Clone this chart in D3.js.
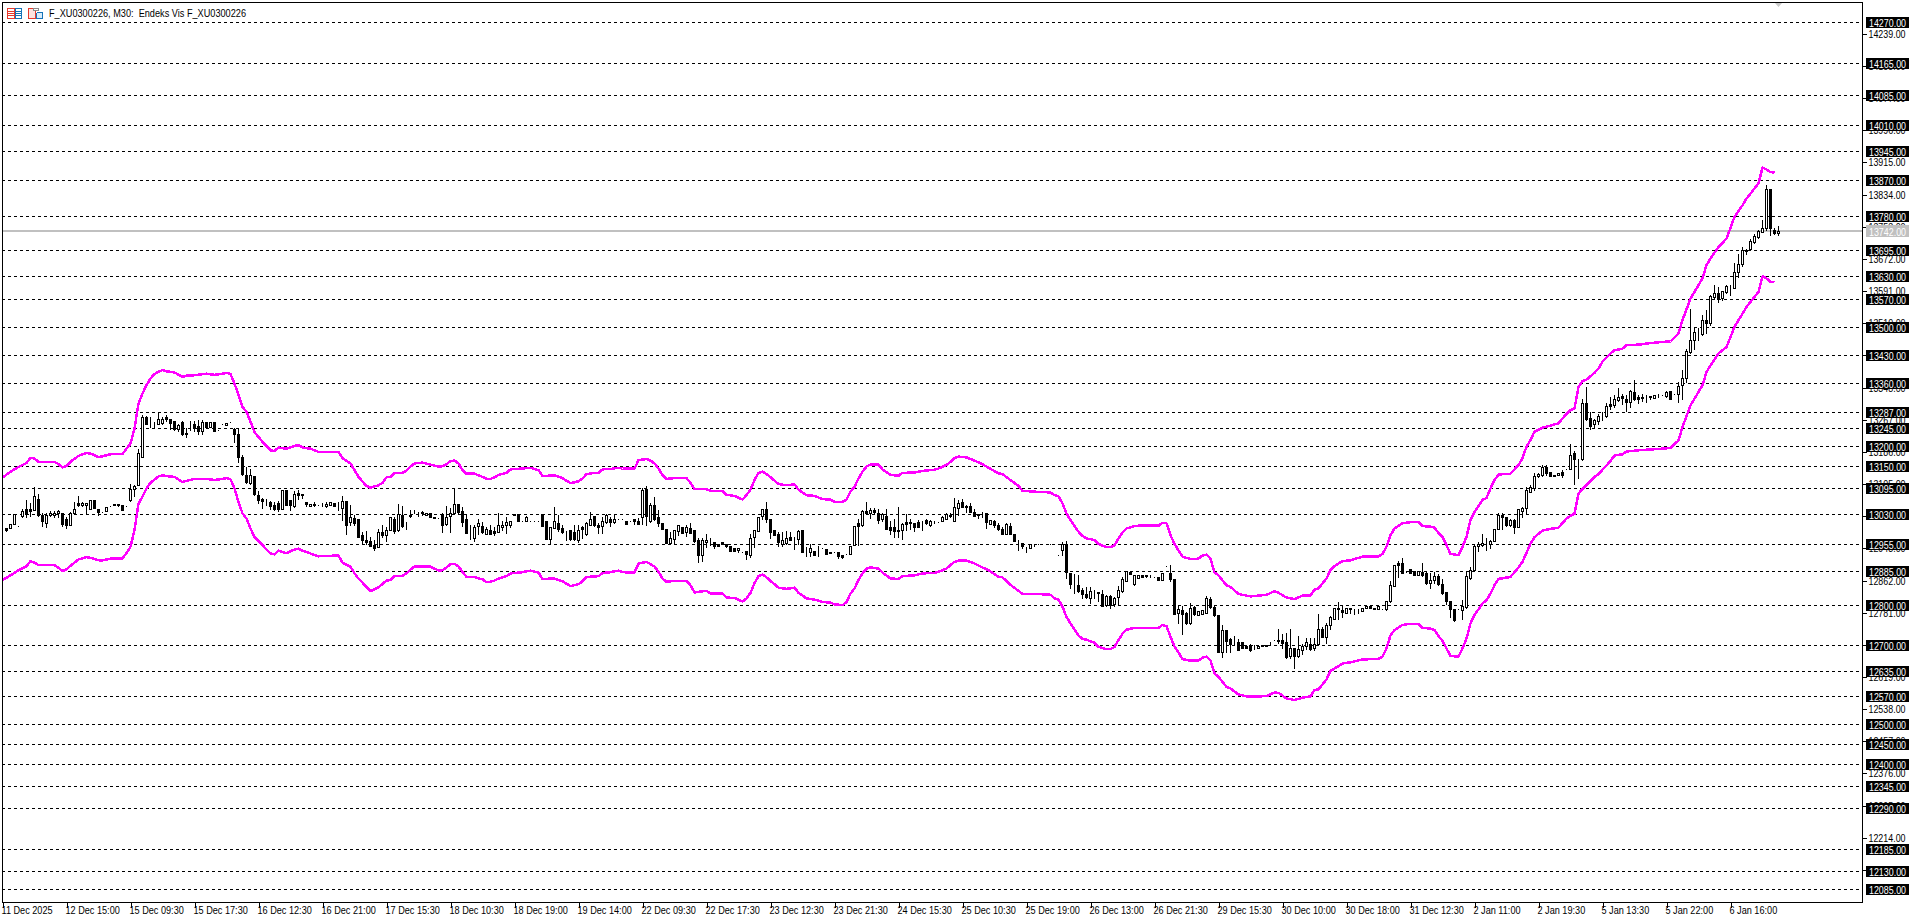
<!DOCTYPE html>
<html>
<head>
<meta charset="utf-8">
<title>F_XU0300226, M30</title>
<script src="https://cdnjs.cloudflare.com/ajax/libs/d3/7.8.5/d3.min.js"></script>
<style>
html, body { margin: 0; padding: 0; background: #fff; overflow: hidden; }
svg { display: block; }
text { font-family: "Liberation Sans", sans-serif; }
</style>
</head>
<body>
<div id="chart"></div>
<script>
const chartTitle = 'F_XU0300226, M30:  Endeks Vis F_XU0300226';
const currentPrice = 13742;

// hand drawn levels on the chart
const levels = [14270,14165,14085,14010,13945,13870,13780,13695,13630,13570,13500,13430,13360,13287,13245,13200,13150,13095,13030,12955,12885,12800,12700,12635,12570,12500,12450,12400,12345,12290,12185,12130,12085];
const priceTicks = [14239,14158,14077,13996,13915,13834,13753,13672,13591,13510,13429,13348,13267,13186,13105,13024,12943,12862,12781,12700,12619,12538,12457,12376,12295,12214,12133];
const timeLabels = ['11 Dec 2025','12 Dec 15:00','15 Dec 09:30','15 Dec 17:30','16 Dec 12:30','16 Dec 21:00','17 Dec 15:30','18 Dec 10:30','18 Dec 19:00','19 Dec 14:00','22 Dec 09:30','22 Dec 17:30','23 Dec 12:30','23 Dec 21:30','24 Dec 15:30','25 Dec 10:30','25 Dec 19:00','26 Dec 13:00','26 Dec 21:30','29 Dec 15:30','30 Dec 10:00','30 Dec 18:00','31 Dec 12:30','2 Jan 11:00','2 Jan 19:30','5 Jan 13:30','5 Jan 22:00','6 Jan 16:00'];

const open = [
12994,12995,13005,12999,13024,13042,13042,13039,13067,13026,
13007,13026,13026,13031,13031,13018,13003,13031,13056,13052,
13053,13043,13066,13041,13035,13037,13050,13055,13055,13051,
13049,13064,13092,13103,13173,13273,13260,13262,13257,13259,
13274,13269,13263,13243,13262,13234,13249,13257,13251,13239,
13260,13249,13260,13241,13256,13253,13260,13243,13231,13173,
13129,13108,13125,13077,13068,13061,13060,13052,13056,13041,
13089,13064,13049,13083,13079,13060,13050,13051,13052,13049,
13049,13053,13058,13052,13045,13062,13009,13019,13017,12976,
12964,12961,12952,12947,12983,12977,12990,13017,12989,13027,
12999,13028,13034,13033,13034,13028,13031,13023,13019,13029,
13004,13025,13031,13054,13037,13017,12983,12970,13000,12999,
12980,12988,12986,12985,12997,13001,13002,13029,13029,13013,
13013,13013,13013,13013,13030,13011,12966,12994,13007,12994,
12982,12989,12984,12964,12997,12979,13002,13024,13003,13000,
13010,13018,13009,13018,13018,13013,13013,13016,13011,13021,
13093,13012,13052,13021,13008,12991,12956,12966,12987,12997,
12985,12995,12989,12964,12926,12958,12960,12958,12955,12958,
12954,12948,12944,12939,12933,12936,12926,12972,12987,13024,
13041,13017,12989,12980,12955,12957,12971,12968,12966,12989,
12934,12934,12937,12949,12945,12941,12935,12934,12934,12926,
12929,12930,12951,13007,13001,13038,13033,13039,13033,13018,
13024,12996,12996,12989,12989,13009,13009,13006,13009,13011,
13014,13002,13013,13010,13013,13018,13028,13013,13045,13059,
13049,13049,13035,13029,13029,13033,13004,13012,13001,12993,
12980,12999,12980,12959,12957,12944,12945,12953,12954,12954,
12954,12955,12954,12925,12938,12955,12881,12854,12851,12838,
12827,12819,12833,12832,12829,12800,12822,12802,12820,12836,
12860,12884,12854,12869,12876,12876,12871,12870,12870,12864,
12898,12880,12867,12780,12787,12780,12755,12796,12775,12777,
12781,12815,12796,12775,12682,12737,12714,12705,12706,12706,
12697,12699,12693,12691,12696,12697,12703,12711,12713,12713,
12706,12671,12693,12671,12688,12698,12703,12691,12703,12741,
12720,12751,12766,12792,12788,12781,12793,12791,12787,12785,
12792,12798,12794,12790,12789,12791,12810,12849,12905,12906,
12883,12890,12886,12877,12884,12880,12856,12863,12874,12853,
12832,12811,12789,12789,12787,12796,12868,12888,12949,12952,
12955,12955,12962,12992,13027,13021,13002,13014,12997,13038,
13045,13086,13095,13124,13127,13147,13136,13129,13127,13135,
13144,13144,13183,13169,13169,13308,13272,13255,13264,13278,
13277,13306,13303,13316,13326,13320,13312,13338,13324,13324,
13327,13326,13322,13329,13329,13327,13340,13333,13332,13355,
13371,13438,13468,13486,13483,13517,13511,13576,13585,13574,
13589,13602,13600,13639,13659,13694,13697,13715,13726,13740,
13749,13848,13746,13738];

const high = [
12994,13005,13029,12999,13042,13064,13056,13098,13081,13031,
13031,13037,13037,13039,13032,13021,13035,13061,13074,13061,
13057,13066,13066,13041,13035,13046,13050,13055,13055,13051,
13049,13106,13102,13194,13280,13276,13274,13262,13287,13273,
13278,13270,13263,13256,13264,13245,13263,13263,13267,13266,
13260,13260,13260,13241,13256,13258,13260,13245,13245,13178,
13148,13144,13125,13088,13071,13068,13063,13060,13062,13089,
13089,13064,13088,13091,13081,13060,13055,13060,13052,13056,
13060,13061,13058,13060,13075,13062,13052,13027,13017,12985,
12987,12972,12965,12993,13002,12997,13022,13023,13055,13050,
13010,13039,13039,13035,13037,13033,13031,13023,13019,13031,
13049,13044,13094,13054,13048,13027,13003,13002,13016,13009,
12996,13002,12996,13031,13013,13023,13013,13029,13029,13013,
13024,13013,13013,13013,13030,13011,12996,13046,13026,13001,
12987,12989,13001,13001,12999,13010,13034,13024,13006,13023,
13029,13023,13028,13018,13018,13013,13013,13016,13020,13096,
13100,13056,13073,13039,13008,12991,12985,12988,13002,12997,
13002,13006,12989,12968,12968,12979,12968,12958,12955,12958,
12954,12948,12944,12944,12933,12936,12979,12989,13021,13041,
13060,13017,12989,12985,12985,12987,12985,12971,12989,12989,
12947,12953,12937,12950,12945,12941,12935,12934,12934,12926,
12929,12950,12999,13017,13039,13060,13044,13045,13042,13031,
13042,13012,13017,13048,13006,13029,13018,13008,13014,13013,
13016,13014,13013,13010,13024,13031,13033,13071,13065,13067,
13052,13056,13043,13029,13035,13033,13014,13014,13007,12996,
13006,13008,12980,12965,12957,12947,12955,12953,12954,12954,
12954,12955,12954,12925,12959,12961,12881,12878,12875,12842,
12846,12846,12839,12832,12838,12825,12825,12821,12848,12870,
12886,12884,12877,12875,12876,12876,12877,12870,12870,12880,
12898,12901,12867,12800,12798,12782,12806,12797,12784,12787,
12822,12821,12797,12775,12749,12738,12716,12722,12714,12706,
12697,12702,12699,12696,12700,12700,12706,12711,12741,12727,
12731,12739,12693,12722,12703,12718,12718,12716,12777,12745,
12754,12772,12794,12808,12800,12794,12793,12791,12790,12794,
12798,12798,12794,12797,12789,12811,12860,12902,12912,12918,
12883,12892,12886,12886,12905,12884,12880,12884,12878,12867,
12832,12811,12789,12789,12813,12886,12895,12955,12960,12979,
12970,12964,12993,13031,13031,13023,13016,13018,13041,13046,
13097,13102,13133,13133,13153,13153,13136,13129,13133,13140,
13144,13207,13187,13169,13320,13350,13287,13269,13281,13287,
13308,13323,13329,13346,13333,13329,13341,13368,13329,13331,
13329,13326,13328,13333,13329,13340,13340,13333,13361,13392,
13444,13547,13497,13499,13530,13544,13581,13606,13602,13592,
13606,13606,13662,13684,13702,13698,13723,13736,13744,13770,
13858,13849,13750,13754];

const low = [
12986,12995,13005,12999,13021,13021,13024,13039,13024,12999,
12997,13024,13022,13021,12999,12994,13001,13029,13049,13050,
13031,13042,13045,13026,13035,13037,13050,13052,13049,13040,
13049,13063,13075,13103,13173,13255,13249,13245,13255,13257,
13264,13243,13242,13239,13228,13224,13242,13239,13231,13231,
13245,13249,13239,13241,13256,13253,13260,13211,13161,13127,
13108,13106,13077,13057,13045,13053,13041,13039,13037,13041,
13053,13039,13047,13068,13070,13050,13050,13050,13052,13049,
13048,13051,13050,13039,13014,12979,13002,13003,12971,12955,
12955,12950,12939,12947,12972,12962,12990,12982,12987,12997,
12992,13023,13031,13025,13028,13028,13023,13020,13019,12984,
13002,12984,13031,13031,13000,12982,12967,12962,12979,12981,
12979,12979,12976,12985,12989,12982,12996,13026,13013,13013,
13012,13013,13013,13013,13000,12966,12955,12994,12987,12982,
12965,12964,12964,12960,12968,12976,13002,12999,12982,12982,
13008,13000,13006,13018,13018,13005,13013,13004,13004,13004,
13002,13010,13014,12999,12992,12956,12955,12955,12976,12982,
12974,12981,12960,12909,12912,12947,12951,12944,12950,12953,
12947,12937,12937,12934,12933,12917,12922,12947,12987,13016,
13010,12968,12976,12949,12949,12954,12964,12942,12954,12934,
12924,12924,12926,12924,12943,12929,12932,12934,12919,12919,
12929,12930,12951,12951,12999,13031,13020,13032,13006,13012,
12991,12979,12972,12972,12967,12989,12991,12987,12996,12989,
13004,13000,13006,13010,13012,13018,13023,13012,13026,13046,
13035,13034,13024,13020,13022,12995,13004,12997,12990,12979,
12979,12979,12961,12938,12943,12934,12944,12948,12954,12954,
12954,12955,12954,12925,12926,12869,12844,12831,12833,12819,
12819,12806,12817,12811,12798,12798,12793,12798,12800,12833,
12860,12878,12850,12869,12871,12870,12870,12870,12864,12864,
12898,12861,12777,12754,12727,12752,12752,12775,12775,12777,
12779,12794,12772,12682,12670,12682,12682,12702,12686,12691,
12691,12685,12689,12691,12696,12697,12701,12711,12705,12691,
12668,12666,12642,12670,12676,12690,12687,12688,12699,12719,
12705,12739,12766,12766,12771,12781,12781,12777,12781,12785,
12792,12794,12791,12790,12789,12787,12807,12849,12871,12880,
12883,12882,12877,12877,12874,12853,12842,12855,12850,12829,
12803,12769,12760,12789,12766,12793,12866,12886,12937,12950,
12940,12943,12962,12991,12993,12999,13000,12982,12997,13023,
13031,13084,13091,13123,13125,13128,13126,13125,13127,13123,
13144,13142,13106,13119,13165,13267,13244,13245,13256,13267,
13274,13295,13298,13314,13306,13289,13299,13316,13309,13314,
13312,13318,13322,13323,13329,13324,13319,13333,13312,13319,
13363,13435,13445,13469,13481,13486,13505,13572,13564,13568,
13586,13581,13598,13627,13655,13684,13694,13711,13724,13739,
13746,13732,13734,13732];

const close = [
12989,13005,13029,12999,13037,13029,13038,13074,13026,13011,
13028,13031,13032,13037,13005,13001,13032,13042,13051,13058,
13057,13064,13045,13035,13035,13046,13050,13052,13052,13040,
13049,13092,13100,13184,13273,13257,13260,13262,13270,13270,
13269,13259,13243,13253,13232,13230,13249,13246,13239,13260,
13249,13260,13239,13241,13256,13258,13260,13231,13173,13131,
13109,13129,13079,13064,13062,13061,13050,13041,13041,13089,
13053,13052,13081,13078,13077,13054,13055,13054,13052,13049,
13054,13060,13050,13052,13062,13002,13022,13006,12972,12964,
12959,12950,12945,12983,12977,12989,13022,12987,13029,12999,
12999,13025,13034,13033,13031,13033,13023,13020,13019,13002,
13021,13031,13054,13034,13010,12982,12983,12997,13006,12983,
12993,12980,12981,13001,13003,13009,13011,13026,13013,13013,
13021,13013,13013,13013,13000,12966,12996,13011,12991,12984,
12982,12967,12966,12989,12991,13007,13016,13001,12997,13012,
13027,13010,13016,13018,13018,13005,13013,13013,13005,13091,
13025,13052,13018,13008,12992,12956,12969,12988,13001,12982,
12997,12982,12962,12926,12964,12964,12960,12949,12950,12953,
12950,12937,12937,12944,12933,12930,12969,12989,13021,13041,
13018,12985,12976,12958,12963,12969,12965,12968,12987,12934,
12934,12943,12926,12949,12943,12929,12932,12934,12924,12922,
12929,12950,12999,12999,13036,13032,13039,13034,13014,13029,
12992,12989,12987,12986,13004,13004,13006,12997,12997,13011,
13008,13013,13011,13010,13021,13029,13025,13046,13056,13048,
13046,13035,13025,13026,13029,13010,13014,13001,12991,12980,
13004,12980,12961,12959,12949,12944,12953,12953,12954,12954,
12954,12955,12954,12925,12954,12884,12853,12852,12836,12827,
12821,12836,12833,12831,12798,12822,12800,12819,12838,12865,
12886,12878,12877,12875,12871,12873,12871,12870,12864,12880,
12898,12866,12777,12789,12777,12754,12794,12777,12784,12787,
12817,12796,12775,12682,12738,12709,12702,12705,12686,12691,
12692,12688,12693,12696,12700,12700,12703,12711,12709,12705,
12670,12693,12671,12690,12698,12706,12690,12703,12741,12720,
12750,12769,12794,12789,12783,12794,12790,12791,12787,12794,
12798,12794,12791,12797,12789,12811,12850,12902,12901,12882,
12883,12882,12877,12886,12877,12855,12863,12874,12852,12831,
12811,12789,12762,12789,12797,12873,12888,12949,12953,12957,
12955,12961,12993,13026,13021,13002,13014,12996,13041,13045,
13089,13098,13125,13130,13149,13132,13126,13125,13133,13127,
13144,13179,13169,13169,13308,13270,13252,13267,13277,13278,
13302,13301,13318,13323,13322,13312,13340,13318,13319,13321,
13327,13323,13328,13329,13329,13336,13319,13333,13353,13371,
13439,13469,13487,13486,13517,13511,13578,13585,13571,13590,
13603,13602,13640,13660,13694,13691,13716,13729,13742,13751,
13849,13749,13738,13742];

// envelope lines, read at the bars where they bend
const bandBars = [-1,1,3,5,6,7,8,12,13,14,15,16,18,20,21,23,24,26,29,30,31,32,33,34,35,36,37,38,39,40,42,44,45,47,50,52,54,55,56,57,58,59,60,61,62,64,66,67,68,70,72,73,74,76,78,
83,84,86,87,88,90,91,93,94,95,96,97,99,100,101,102,104,106,108,109,110,111,112,113,114,115,117,118,119,120,121,122,123,125,126,129,131,133,134,137,139,141,143,144,145,147,148,149,151,153,154,157,158,
160,161,162,163,164,165,167,170,171,172,175,176,179,180,182,184,185,186,187,188,189,190,191,193,195,197,198,200,202,204,206,207,209,210,211,212,213,214,215,216,218,219,221,223,224,227,229,232,233,235,236,237,238,
240,242,244,246,248,249,251,253,254,258,261,262,263,264,265,266,268,269,270,272,273,275,276,277,278,279,280,282,284,288,289,290,291,292,293,294,296,298,299,300,301,302,303,305,306,308,310,311,313,315,317,318,
320,322,324,326,327,328,330,331,332,334,336,339,343,344,345,346,347,349,351,353,354,356,357,358,359,360,361,363,364,365,366,367,369,370,371,372,373,376,378,379,380,381,382,
384,386,388,390,391,392,393,394,395,397,398,399,401,402,404,405,408,411,414,416,418,419,421,423,424,425,426,428,430,432,434,435,438,439,440,441,442];

const bandUpper = [13121,13136,13148,13158,13171,13169,13161,13161,13155,13147,13150,13161,13176,13183,13182,13173,13175,13180,13181,13194,13207,13245,13308,13333,13354,13371,13382,13388,13392,13389,13386,13375,13378,13379,13383,13380,13383,13385,13382,13358,13329,13299,13287,13262,13236,13211,13190,13188,13197,13194,13201,13203,13197,13194,13186,
13186,13170,13157,13140,13123,13100,13096,13102,13108,13122,13123,13133,13133,13139,13149,13157,13159,13154,13149,13150,13155,13163,13164,13157,13140,13131,13131,13127,13123,13118,13118,13122,13128,13133,13142,13144,13146,13140,13125,13127,13120,13107,13112,13119,13130,13133,13133,13142,13143,13146,13144,13144,13165,
13168,13164,13157,13144,13128,13118,13120,13120,13108,13092,13092,13088,13087,13078,13075,13066,13077,13091,13115,13133,13136,13130,13122,13105,13102,13104,13091,13077,13075,13067,13066,13060,13060,13066,13086,13098,13119,13136,13149,13154,13154,13142,13128,13126,13133,13134,13138,13141,13144,13153,13161,13170,13174,
13172,13164,13155,13143,13132,13130,13115,13100,13088,13085,13084,13077,13074,13056,13031,13014,12985,12974,12968,12964,12954,12946,12946,12951,12968,12983,12993,12999,13001,13000,13007,13006,12976,12954,12938,12922,12916,12917,12925,12927,12917,12882,12875,12850,12846,12828,12824,12822,12824,12826,12835,12831,
12819,12815,12824,12824,12839,12842,12867,12888,12898,12911,12913,12922,12922,12929,12947,12976,12993,13006,13009,13009,12999,12998,12995,12982,12971,12951,12929,12926,12947,12972,13014,13035,13065,13070,13094,13115,13129,13131,13153,13170,13199,13216,13237,
13247,13252,13258,13282,13291,13295,13350,13364,13368,13385,13396,13413,13434,13442,13446,13455,13456,13460,13463,13464,13484,13518,13572,13606,13623,13656,13673,13702,13723,13778,13807,13824,13862,13902,13897,13891,13889];

const bandLower = [12863,12875,12888,12898,12911,12907,12901,12901,12894,12886,12890,12899,12915,12921,12919,12913,12913,12917,12918,12931,12947,12989,13056,13073,13094,13108,13116,13124,13127,13125,13123,13110,13113,13118,13118,13115,13118,13120,13117,13094,13060,13031,13018,12993,12972,12951,12930,12928,12937,12931,12940,12942,12937,12930,12923,
12925,12907,12897,12880,12867,12846,12835,12845,12853,12862,12863,12873,12874,12880,12890,12897,12897,12897,12887,12888,12895,12903,12904,12897,12884,12871,12871,12867,12865,12858,12859,12862,12867,12873,12880,12883,12887,12882,12866,12867,12860,12848,12853,12860,12871,12872,12873,12881,12883,12887,12883,12882,12905,
12909,12903,12897,12884,12867,12859,12861,12861,12850,12832,12836,12829,12829,12819,12818,12809,12817,12831,12855,12873,12877,12870,12861,12844,12841,12844,12831,12817,12814,12808,12806,12802,12800,12808,12829,12842,12863,12880,12892,12895,12892,12882,12867,12866,12873,12875,12880,12881,12884,12892,12901,12909,12912,
12912,12905,12895,12885,12871,12870,12851,12836,12828,12828,12826,12817,12814,12796,12770,12754,12723,12715,12713,12705,12695,12689,12689,12695,12712,12728,12738,12743,12743,12743,12750,12747,12720,12696,12681,12664,12660,12660,12668,12670,12661,12628,12619,12594,12590,12575,12570,12570,12570,12571,12580,12579,
12565,12561,12567,12570,12586,12588,12613,12635,12640,12653,12656,12663,12665,12670,12691,12724,12737,12750,12753,12753,12743,12741,12737,12722,12710,12691,12672,12670,12691,12716,12754,12775,12804,12813,12829,12850,12866,12871,12895,12909,12932,12955,12971,
12988,12992,12995,13018,13025,13030,13081,13093,13103,13123,13130,13141,13163,13177,13180,13187,13190,13192,13194,13196,13215,13249,13303,13337,13354,13387,13404,13434,13450,13501,13534,13551,13589,13628,13623,13614,13613];

const svgWidth = 1920;
const svgHeight = 923;
const plot = { left: 2, right: 1862, top: 2, bottom: 902 };
const priceTextWidth = 37;
const timeTextScale = 0.83;

const svg = d3
	.select('#chart')
	.append('svg')
	.attr('width', svgWidth)
	.attr('height', svgHeight);

const x = d3.scaleLinear().domain([ 0, 443 ]).range([ 6.5, 1778.5 ]);
const y = d3.scaleLinear().domain([ 12085, 14270 ]).range([ 889, 21.5 ]);

// squeeze a text to the narrow look of the terminal font
const squeeze = (sel, width) => sel.attr('lengthAdjust', 'spacingAndGlyphs').attr('textLength', width);

// the bars clip to the plot, like the terminal does
svg.append('clipPath').attr('id', 'clip').append('rect')
	.attr('x', plot.left).attr('y', plot.top)
	.attr('width', plot.right - plot.left).attr('height', plot.bottom - plot.top);

const chart = svg.append('g').attr('clip-path', 'url(#clip)').attr('shape-rendering', 'crispEdges');

// price levels
chart.append('g').selectAll('line').data(levels).join('line')
	.attr('x1', plot.left).attr('x2', plot.right)
	.attr('y1', (d) => Math.round(y(d)) + 0.5).attr('y2', (d) => Math.round(y(d)) + 0.5)
	.attr('stroke', '#000').attr('stroke-dasharray', '3,3');

// current price line
chart.append('line')
	.attr('x1', plot.left).attr('x2', plot.right)
	.attr('y1', Math.round(y(currentPrice))).attr('y2', Math.round(y(currentPrice)))
	.attr('stroke', '#c0c0c0').attr('stroke-width', 2);

// envelope
const bandLine = (values) => d3.line().x((d) => x(d)).y((d, i) => y(values[i]));
[ bandUpper, bandLower ].forEach((values) => {
	chart.append('path')
		.attr('d', bandLine(values)(bandBars))
		.attr('fill', 'none')
		.attr('stroke', '#ff00ff')
		.attr('stroke-width', 2.5)
		.attr('stroke-linejoin', 'round');
});

// candles
const candles = chart.append('g').selectAll('g').data(open).join('g');
candles.append('line')
	.attr('x1', (d, i) => x(i)).attr('x2', (d, i) => x(i))
	.attr('y1', (d, i) => Math.round(y(high[i]))).attr('y2', (d, i) => Math.round(y(low[i])) + 1)
	.attr('stroke', '#000');
candles.append('rect')
	.attr('x', (d, i) => x(i) - 1)
	.attr('y', (d, i) => Math.round(y(Math.max(open[i], close[i]))) + 0.5)
	.attr('width', 2)
	.attr('height', (d, i) => Math.round(y(Math.min(open[i], close[i]))) - Math.round(y(Math.max(open[i], close[i]))))
	.attr('fill', (d, i) => (close[i] >= open[i] ? '#fff' : '#000'))
	.attr('stroke', '#000');

// frame
svg.append('rect')
	.attr('x', plot.left + 0.5).attr('y', plot.top + 0.5)
	.attr('width', plot.right - plot.left).attr('height', plot.bottom - plot.top)
	.attr('fill', 'none').attr('stroke', '#000')
	.attr('shape-rendering', 'crispEdges');

// price scale, the level boxes go on top of it
const yAxis = svg.append('g')
	.attr('transform', `translate(${plot.right + 0.5},0)`)
	.call(d3.axisRight(y).tickValues(priceTicks).tickSize(4).tickPadding(2).tickFormat(d3.format('.2f')));
yAxis.select('.domain').remove();
yAxis.selectAll('text').attr('font-size', 11).attr('font-family', null).attr('fill', '#000').call(squeeze, priceTextWidth);
yAxis.selectAll('line').attr('shape-rendering', 'crispEdges');

const levelBoxes = svg.append('g').selectAll('g').data(levels).join('g')
	.attr('transform', (d) => `translate(1866,${Math.round(y(d))})`);
levelBoxes.append('rect')
	.attr('y', -5).attr('width', 43).attr('height', 11).attr('fill', '#000');
levelBoxes.append('text')
	.attr('x', 3).attr('y', 4.5).attr('font-size', 11).attr('fill', '#fff')
	.text((d) => d3.format('.2f')(d))
	.call(squeeze, priceTextWidth);

const priceBox = svg.append('g').attr('transform', `translate(1866,${Math.round(y(currentPrice))})`);
priceBox.append('rect').attr('y', -6).attr('width', 43).attr('height', 12).attr('fill', '#c0c0c0');
priceBox.append('text').attr('x', 3).attr('y', 4.5).attr('font-size', 11).attr('fill', '#fff')
	.text(d3.format('.2f')(currentPrice))
	.call(squeeze, priceTextWidth);

// time scale, one label every 16 bars
const timeTicks = timeLabels.map((d, i) => i * 16 - 1);
const xAxis = svg.append('g')
	.attr('transform', `translate(0,${plot.bottom + 0.5})`)
	.call(d3.axisBottom(x).tickValues(timeTicks).tickSize(5).tickFormat((d, i) => timeLabels[i]));
xAxis.select('.domain').remove();
xAxis.selectAll('line').attr('shape-rendering', 'crispEdges');
xAxis.selectAll('text')
	.attr('text-anchor', 'start').attr('x', -1.5).attr('y', 4).attr('dy', '0.71em')
	.attr('font-size', 11).attr('font-family', null).attr('fill', '#000')
	.each(function() {
		d3.select(this).call(squeeze, this.getComputedTextLength() * timeTextScale);
	});

// title and the two small terminal icons
svg.append('text')
	.attr('x', 49).attr('y', 16.5).attr('font-size', 11)
	.style('white-space', 'pre')
	.text(chartTitle)
	.call(squeeze, 197);

const icons = svg.append('g').attr('shape-rendering', 'crispEdges').attr('fill', 'none');
icons.append('rect').attr('x', 7.5).attr('y', 8.5).attr('width', 7).attr('height', 10).attr('stroke', '#e8392b');
icons.append('rect').attr('x', 15.5).attr('y', 8.5).attr('width', 6).attr('height', 10).attr('stroke', '#1573b8');
icons.append('path').attr('d', 'M8 11.5H15M8 13.5H15M8 15.5H15').attr('stroke', '#e8392b');
icons.append('path').attr('d', 'M16 11.5H22M16 13.5H22M16 15.5H22').attr('stroke', '#1573b8');
icons.append('path').attr('d', 'M28.5 8.5H35.5V18.5H28.5Z').attr('stroke', '#e8392b').attr('fill', '#fde3df');
icons.append('path').attr('d', 'M37.5 12.5H42.5V18.5H36.5V13.5Z').attr('stroke', '#1573b8').attr('fill', '#d8ecfa');
icons.append('rect').attr('x', 33.5).attr('y', 8.5).attr('width', 5).attr('height', 2).attr('stroke', '#8a8a8a').attr('fill', '#fff');

// small grey marker on the top edge
svg.append('path').attr('d', 'M1775 3H1782L1778.5 7Z').attr('fill', '#c8c8c8');
</script>
</body>
</html>
